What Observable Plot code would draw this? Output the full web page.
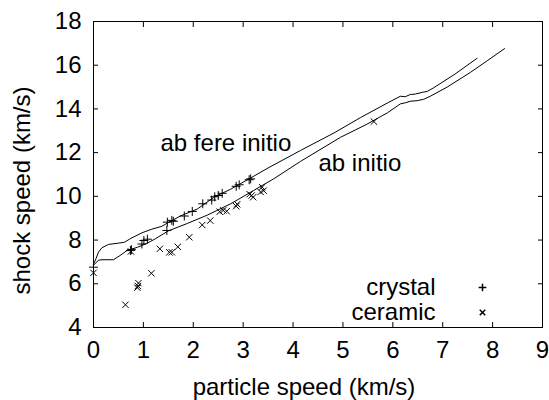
<!DOCTYPE html>
<html><head><meta charset="utf-8">
<script src="https://cdn.jsdelivr.net/npm/d3@7"></script>
<script src="https://cdn.jsdelivr.net/npm/@observablehq/plot@0.6"></script>
<style>
body{margin:0;background:#fff}
svg{font-family:"Liberation Sans",Arial,sans-serif}
</style>
</head><body><div id="chart"></div>
<script>
const xTicks = [0,1,2,3,4,5,6,7,8,9];
const yTicks = [4,6,8,10,12,14,16,18];
const xLabel = "particle speed (km/s)";
const yLabel = "shock speed (km/s)";
const seriesNames = ["crystal","ceramic"];
const lineLabels = ["ab fere initio","ab initio"];

const crystalX = [0,0.74,0.76,0.97,1.01,1.08,1.47,1.48,1.57,1.6,1.82,1.98,2.19,2.37,2.43,2.5,2.58,2.86,2.92,3.12,3.15];
const crystalY = [6.76,7.52,7.56,7.82,7.98,8.04,8.44,8.82,8.9,8.86,9.1,9.31,9.66,9.83,9.98,10.04,10.14,10.46,10.53,10.76,10.8];

const ceramicX = [0,0.64,0.75,0.88,0.89,0.9,1.16,1.33,1.52,1.57,1.69,1.92,2.18,2.34,2.53,2.6,2.67,2.86,2.88,3.13,3.17,3.2,3.35,3.38,3.41,5.62];
const ceramicY = [6.5,5.04,7.48,5.82,5.9,6.03,6.48,7.6,7.44,7.44,7.69,8.13,8.69,8.89,9.3,9.36,9.32,9.55,9.64,10.1,10.04,9.96,10.2,10.42,10.26,13.42];

const fereX = [0,0.05,0.1,0.17,0.3,0.5,0.62,0.75,0.97,1.17,1.37,1.5,1.74,2.08,2.41,2.75,3.08,3.5,4.15,4.82,5.35,5.89,6.15,6.25,6.35,6.45,6.59,6.69,6.82,7.25,7.69];
const fereY = [6.9,7.15,7.45,7.65,7.8,7.86,7.9,8.08,8.33,8.5,8.63,8.8,9.1,9.42,9.95,10.33,10.75,11.3,12.1,12.9,13.6,14.27,14.58,14.56,14.66,14.68,14.76,14.8,14.97,15.6,16.32];

const initioX = [0,0.1,0.17,0.4,0.53,0.67,0.88,1.07,1.24,1.5,1.88,2.28,2.75,3.21,3.61,4.15,4.95,5.48,5.89,6.15,6.25,6.35,6.49,6.62,6.75,7.09,7.56,7.89,8.24];
const initioY = [6.85,7.08,7.1,7.1,7.29,7.52,7.67,7.85,8.06,8.42,8.76,9.14,9.66,10.27,10.8,11.6,12.7,13.3,13.82,14.23,14.28,14.35,14.38,14.44,14.58,15.0,15.68,16.2,16.76];

const crystal = crystalX.map((x,i)=>({x, y: crystalY[i]}));
const ceramic = ceramicX.map((x,i)=>({x, y: ceramicY[i]}));
const fere = fereX.map((x,i)=>({x, y: fereY[i]}));
const initio = initioX.map((x,i)=>({x, y: initioY[i]}));

const FS = 24;
const chart = Plot.plot({
  width: 549, height: 400,
  marginLeft: 93, marginRight: 7, marginTop: 21, marginBottom: 73,
  style: {fontFamily: '"Liberation Sans", Arial, sans-serif', fontSize: FS + "px", color: "black", background: "white"},
  x: {domain: [0, 9]},
  y: {domain: [4, 18]},
  marks: [
    Plot.frame({stroke: "black", strokeWidth: 1}),
    Plot.axisX({ticks: xTicks, tickSize: 0, tickPadding: 13, fontSize: FS, label: null}),
    Plot.axisX({ticks: xTicks, tickSize: -5, tickFormat: () => "", label: null}),
    Plot.axisX({anchor: "top", ticks: xTicks, tickSize: -5, tickFormat: () => "", label: null}),
    Plot.axisY({ticks: yTicks, tickSize: 0, tickPadding: 12, fontSize: FS, label: null}),
    Plot.axisY({ticks: yTicks, tickSize: -5, tickFormat: () => "", label: null}),
    Plot.axisY({anchor: "right", ticks: yTicks, tickSize: -5, tickFormat: () => "", label: null}),
    Plot.text([xLabel], {frameAnchor: "bottom", text: d => d, textAnchor: "middle", lineAnchor: "middle", dx: -14, dy: 60, fontSize: FS, fill: "black"}),
    Plot.text([yLabel], {frameAnchor: "left", text: d => d, textAnchor: "middle", lineAnchor: "middle", rotate: -90, dx: -71, dy: 16, fontSize: FS, fill: "black"}),
    Plot.line(fere, {x: "x", y: "y", stroke: "black", strokeWidth: 1}),
    Plot.line(initio, {x: "x", y: "y", stroke: "black", strokeWidth: 1}),
    Plot.dot(crystal, {x: "x", y: "y", symbol: "plus", r: 3, stroke: "black", strokeWidth: 1}),
    Plot.dot(ceramic, {x: "x", y: "y", symbol: "times", r: 3, stroke: "black", strokeWidth: 1}),
    Plot.text([lineLabels[0]], {frameAnchor: "top-left", text: d => d, textAnchor: "start", lineAnchor: "middle", dx: 67, dy: 122, fontSize: FS, fill: "black"}),
    Plot.text([lineLabels[1]], {frameAnchor: "top-left", text: d => d, textAnchor: "start", lineAnchor: "middle", dx: 225, dy: 142, fontSize: FS, fill: "black"}),
    Plot.text([seriesNames[0]], {frameAnchor: "bottom-right", text: d => d, textAnchor: "end", lineAnchor: "middle", dx: -107, dy: -40, fontSize: FS, fill: "black"}),
    Plot.text([seriesNames[1]], {frameAnchor: "bottom-right", text: d => d, textAnchor: "end", lineAnchor: "middle", dx: -107, dy: -15, fontSize: FS, fill: "black"}),
    Plot.dot([seriesNames[0]], {frameAnchor: "bottom-right", symbol: "plus", r: 2.6, stroke: "black", dx: -60, dy: -40}),
    Plot.dot([seriesNames[1]], {frameAnchor: "bottom-right", symbol: "times", r: 2.6, stroke: "black", dx: -60, dy: -15})
  ]
});
document.getElementById("chart").append(chart);
</script>
</body></html>
